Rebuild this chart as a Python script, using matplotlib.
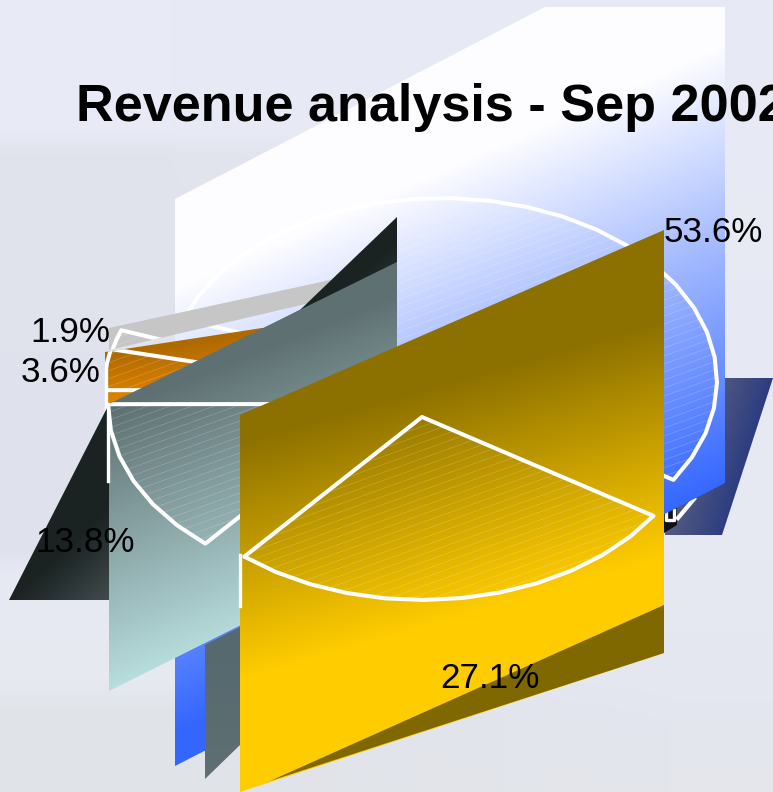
import numpy as np
import matplotlib
matplotlib.use('Agg')
import matplotlib.pyplot as plt
from matplotlib.patches import Polygon
from matplotlib.colors import to_rgb

title = 'Revenue analysis - Sep 2002'
slices = ['blue', 'grey', 'orange', 'teal', 'yellow']
shares = [53.6, 1.9, 3.6, 13.8, 27.1]
share_labels = ['53.6%', '1.9%', '3.6%', '13.8%', '27.1%']

W, H = 773, 792
fig = plt.figure(figsize=(W / 100, H / 100), dpi=100)
ax = fig.add_axes([0, 0, 1, 1])
ax.axis('off')
plt.rcParams['font.family'] = ['Liberation Sans', 'DejaVu Sans']

xx, yy = np.meshgrid(np.arange(W) + 0.5, np.arange(H) + 0.5)


def grad_fill(poly, c0, c1, start, g, z):
    # linear gradient image cut out by the polygon
    t = np.clip((xx - start[0]) * g[0] + (yy - start[1]) * g[1], 0, 1)[..., None]
    img = np.array(to_rgb(c0)) * (1 - t) + np.array(to_rgb(c1)) * t
    im = ax.imshow(img, extent=(0, W, H, 0), aspect='auto', zorder=z, interpolation='nearest')
    p = Polygon(poly, closed=True, transform=ax.transData, fc='none', ec='none')
    ax.add_patch(p)
    im.set_clip_path(p)
    return p


def wedge(theta0, sweep, c, step=8):
    # pie slice as a coarse polygon, same as the stepped arc of the original
    n = max(2, int(sweep / step) + 1)
    a = np.radians(np.linspace(theta0, theta0 + sweep, n))
    xs = c[0] + 275 * np.cos(a)
    ys = c[1] - 183 * np.sin(a)
    return np.vstack([[c[0], c[1]], np.column_stack([xs, ys])])


def draw_slice(pts, plane, xr, z, slope=-0.36, gap=8):
    # faint hatch lines, then the white outline
    p = Polygon(pts, closed=True, transform=ax.transData, fc='none', ec='none')
    ax.add_patch(p)
    for y0 in np.arange(100, 1100, gap):
        l, = ax.plot(xr, [y0, y0 + slope * (xr[1] - xr[0])], color='white', lw=0.5, alpha=0.22, zorder=z)
        l.set_clip_path(p)
    o = Polygon(pts, closed=True, fc='none', ec='white', lw=2.9, joinstyle='round', zorder=z + 0.1)
    ax.add_patch(o)
    o.set_clip_path(plane)


def stops(cols):
    ys, cs = zip(*cols)
    cs = np.array([to_rgb(c) for c in cs])
    return np.column_stack([np.interp(yy[:, 0], ys, cs[:, i]) for i in range(3)])


# soft background, a bit different on the left and the right
left = stops([(0, '#e8ebf5'), (130, '#e8ebf5'), (155, '#e1e4ed'), (548, '#dfe2ec'), (572, '#e6e9f3'),
              (680, '#e6e9f0'), (715, '#e0e3e8'), (792, '#e0e3e8')])
right = stops([(0, '#e8ebf5'), (560, '#e6e8f2'), (700, '#e4e6f0'), (792, '#e4e6ec')])
w = np.clip((xx[0] - 170) / 500, 0, 1)[None, :, None]
bg = left[:, None, :] * (1 - w) + right[:, None, :] * w
ax.imshow(bg, extent=(0, W, H, 0), aspect='auto', zorder=0, interpolation='bilinear')

# navy side piece behind the blue panel
grad_fill([(665, 378), (773, 378), (722, 535), (665, 535)], '#555c80', '#1c3080', (665, 535), (0.0125, 0.004), 1)
ax.add_patch(Polygon([(664, 513), (677, 508), (677, 525), (664, 533)], fc='#101018', ec='none', zorder=1.1))
ax.plot([666, 666, 674, 674], [512, 520, 520, 510], color='white', lw=2.4, zorder=1.2)
ax.plot([678, 694], [518, 499], color='white', lw=3, zorder=1.2)

theta = -32.7
angles = {}
for name, s in zip(slices, shares):
    angles[name] = (theta, s * 3.6)
    theta += s * 3.6

# blue panel
blue = grad_fill([(175, 199), (545, 7), (725, 7), (725, 483), (175, 766)], '#fdfdff', '#3366ff',
                 (175, 290), (0.001, 0.00225), 2)
draw_slice(wedge(*angles['blue'], (442, 381)), blue, [175, 725], 2.2)

# grey and orange panels
grey = grad_fill([(109, 328), (335, 279), (310, 303), (109, 350)], '#c6c6c6', '#c6c6c6', (0, 0), (0, 0), 3)
draw_slice(wedge(*angles['grey'], (380, 392), step=3), grey, [109, 335], 3.2)
orange = grad_fill([(105, 352), (262, 328), (290, 328), (290, 412), (105, 412)], '#ae6a00', '#e48400',
                   (105, 355), (0.0029, 0.02), 4)
draw_slice(wedge(*angles['orange'], (379, 390), step=4), orange, [105, 290], 4.2)
ax.plot([105.5, 105.5], [368, 410], color='white', lw=2.4, zorder=4.3)

# dark teal pieces
grad_fill([(397, 217), (300, 310), (107, 408), (9, 600), (240, 600), (397, 262)], '#1a2222', '#465252',
          (9, 600), (0.0088, 0.0095), 5)
grad_fill([(205, 645), (240, 627), (240, 745), (205, 779)], '#56696e', '#5f7074', (205, 645), (0, 0.007), 5)

# teal panel
teal = grad_fill([(109, 404), (397, 262), (397, 547), (109, 691)], '#5f7072', '#bae0e0',
                 (109, 410), (0.0014, 0.0035), 6)
draw_slice(wedge(*angles['teal'], (383, 404)), teal, [109, 397], 6.2)
ax.plot([108, 108], [404, 481], color='white', lw=2.4, zorder=6.3)

# yellow panel
yellow_poly = [(240, 415), (664, 230), (664, 653), (240, 792)]
yellow = grad_fill(yellow_poly, '#8c7000', '#ffcc00', (240, 440), (0.0012, 0.0042), 7)
ax.add_patch(Polygon([(664, 605), (664, 653), (270, 781)], fc='#7f6800', ec='none', zorder=7.1))
draw_slice(wedge(*angles['yellow'], (422, 417)), yellow, [240, 664], 7.2)
ax.plot([240, 240], [555, 606], color='white', lw=2.4, zorder=7.3)

# the labels stay on top of everything
pos = [(713, 233), (70, 333), (61, 373), (85, 543), (490, 679)]
for lab, (x, y) in zip(share_labels, pos):
    ax.text(x, y, lab, fontsize=25.2, ha='center', va='center', color='black', zorder=10)
# the title runs off the right edge in the reference too
ax.text(76, 121, title, fontsize=37.6, fontweight='bold', ha='left', va='baseline', color='black', zorder=10)

ax.set_xlim(0, W)
ax.set_ylim(H, 0)
fig.savefig('out.png', dpi=100)
